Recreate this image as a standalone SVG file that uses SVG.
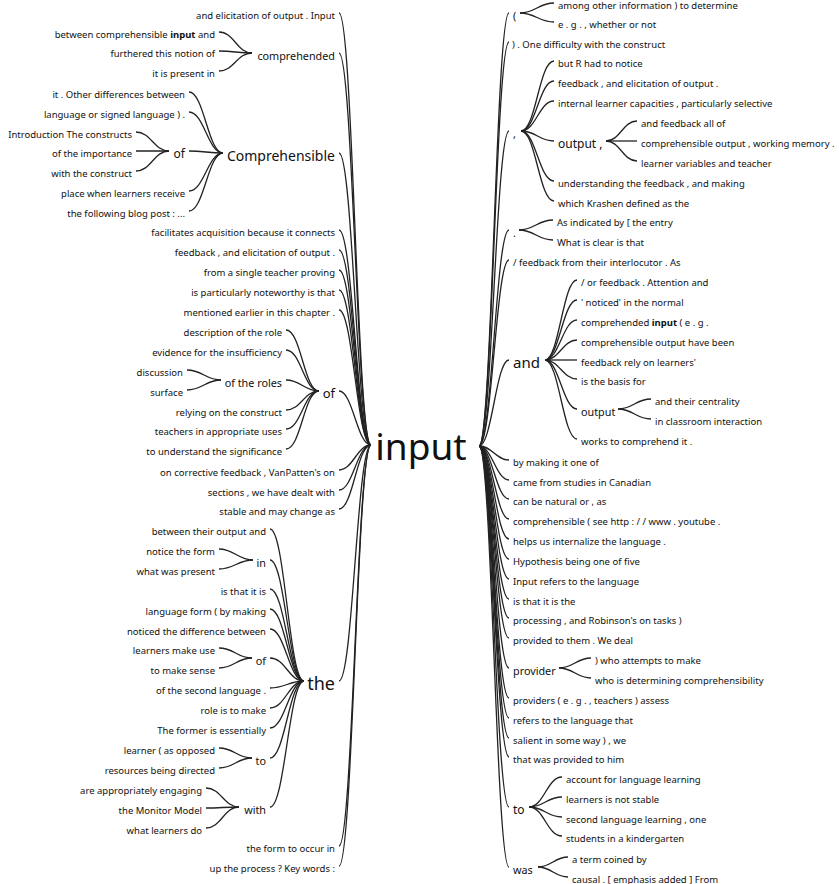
<svg xmlns="http://www.w3.org/2000/svg" width="839" height="884" viewBox="0 0 839 884">
<style>
text{font-family:"Noto Sans","Open Sans",sans-serif;fill:#111;dominant-baseline:central}
.l{text-anchor:end}
.r{text-anchor:start}
.t{font-size:9.5px}
.m{font-size:10.8px}
.n{font-size:12px}
.k{font-size:13px}
.c{font-size:14px}
.h{font-size:15px}
.x{font-size:18px}
.b{font-weight:bold}
#links path{fill:none;stroke:#222;stroke-width:1.3}
</style>
<rect width="839" height="884" fill="#fff"/>
<g id="links">
<!-- left top-level -->
<path d="M339,13 C353,13 357,445 371,445"/>
<path d="M339,53 C353,53 357,445 371,445"/>
<path d="M339,153 C353,153 357,445 371,445"/>
<path d="M339,230 C353,230 357,445 371,445"/>
<path d="M339,250 C353,250 357,445 371,445"/>
<path d="M339,270 C353,270 357,445 371,445"/>
<path d="M339,290 C353,290 357,445 371,445"/>
<path d="M339,310 C353,310 357,445 371,445"/>
<path d="M339,391 C353,391 357,445 371,445"/>
<path d="M339,470 C353,470 357,445 371,445"/>
<path d="M339,490 C353,490 357,445 371,445"/>
<path d="M339,509 C353,509 357,445 371,445"/>
<path d="M339,681 C353,681 357,445 371,445"/>
<path d="M339,846 C353,846 357,445 371,445"/>
<path d="M339,866 C353,866 357,445 371,445"/>
<!-- comprehended -->
<path d="M219,32 C234,32 237,53 252,53"/>
<path d="M219,51 C234,51 237,53 252,53"/>
<path d="M219,71 C234,71 237,53 252,53"/>
<!-- Comprehensible -->
<path d="M189,92 C204,92 208,153 223,153"/>
<path d="M189,112 C204,112 208,153 223,153"/>
<path d="M189,151 C204,151 208,153 223,153"/>
<path d="M189,191 C204,191 208,153 223,153"/>
<path d="M189,211 C204,211 208,153 223,153"/>
<!-- of (Comprehensible) -->
<path d="M136,132 C151,132 154,151 169,151"/>
<path d="M136,151 C151,151 154,151 169,151"/>
<path d="M136,171 C151,171 154,151 169,151"/>
<!-- of (input) -->
<path d="M286,330 C301,330 304,391 319,391"/>
<path d="M286,350 C301,350 304,391 319,391"/>
<path d="M286,380 C301,380 304,391 319,391"/>
<path d="M286,410 C301,410 304,391 319,391"/>
<path d="M286,429 C301,429 304,391 319,391"/>
<path d="M286,449 C301,449 304,391 319,391"/>
<!-- of the roles -->
<path d="M187,370 C202,370 206,380 221,380"/>
<path d="M187,390 C202,390 206,380 221,380"/>
<!-- the -->
<path d="M270,529 C285,529 289,681 304,681"/>
<path d="M270,560 C285,560 289,681 304,681"/>
<path d="M270,589 C285,589 289,681 304,681"/>
<path d="M270,609 C285,609 289,681 304,681"/>
<path d="M270,629 C285,629 289,681 304,681"/>
<path d="M270,658 C285,658 289,681 304,681"/>
<path d="M270,688 C285,688 289,681 304,681"/>
<path d="M270,708 C285,708 289,681 304,681"/>
<path d="M270,728 C285,728 289,681 304,681"/>
<path d="M270,758 C285,758 289,681 304,681"/>
<path d="M270,807 C285,807 289,681 304,681"/>
<!-- in -->
<path d="M219,549 C234,549 238,560 253,560"/>
<path d="M219,569 C234,569 238,560 253,560"/>
<!-- of (the) -->
<path d="M219,648 C234,648 237,658 252,658"/>
<path d="M219,668 C234,668 237,658 252,658"/>
<!-- to (the) -->
<path d="M219,748 C234,748 237,758 252,758"/>
<path d="M219,768 C234,768 237,758 252,758"/>
<!-- with -->
<path d="M206,788 C221,788 224,807 239,807"/>
<path d="M206,808 C221,808 224,807 239,807"/>
<path d="M206,828 C221,828 224,807 239,807"/>
<!-- right top-level -->
<path d="M479,446 C492,446 496,13 509,13"/>
<path d="M479,446 C492,446 496,42 509,42"/>
<path d="M479,446 C492,446 496,131 509,131"/>
<path d="M479,446 C492,446 496,230 509,230"/>
<path d="M479,446 C492,446 496,260 509,260"/>
<path d="M479,446 C492,446 496,360 509,360"/>
<path d="M479,446 C492,446 496,460 509,460"/>
<path d="M479,446 C492,446 496,480 509,480"/>
<path d="M479,446 C492,446 496,499 509,499"/>
<path d="M479,446 C492,446 496,519 509,519"/>
<path d="M479,446 C492,446 496,539 509,539"/>
<path d="M479,446 C492,446 496,559 509,559"/>
<path d="M479,446 C492,446 496,579 509,579"/>
<path d="M479,446 C492,446 496,599 509,599"/>
<path d="M479,446 C492,446 496,618 509,618"/>
<path d="M479,446 C492,446 496,638 509,638"/>
<path d="M479,446 C492,446 496,668 509,668"/>
<path d="M479,446 C492,446 496,698 509,698"/>
<path d="M479,446 C492,446 496,718 509,718"/>
<path d="M479,446 C492,446 496,738 509,738"/>
<path d="M479,446 C492,446 496,757 509,757"/>
<path d="M479,446 C492,446 496,807 509,807"/>
<path d="M479,446 C492,446 496,867 509,867"/>
<!-- ( -->
<path d="M520,13 C535,13 539,3 554,3"/>
<path d="M520,13 C535,13 539,22 554,22"/>
<!-- , -->
<path d="M521,131 C536,131 539,61 554,61"/>
<path d="M521,131 C536,131 539,81 554,81"/>
<path d="M521,131 C536,131 539,101 554,101"/>
<path d="M521,131 C536,131 539,141 554,141"/>
<path d="M521,131 C536,131 539,181 554,181"/>
<path d="M521,131 C536,131 539,201 554,201"/>
<!-- output , -->
<path d="M606,141 C620,141 623,121 637,121"/>
<path d="M606,141 C620,141 623,141 637,141"/>
<path d="M606,141 C620,141 623,161 637,161"/>
<!-- . -->
<path d="M519,230 C534,230 538,220 553,220"/>
<path d="M519,230 C534,230 538,240 553,240"/>
<!-- and -->
<path d="M545,360 C559,360 563,280 577,280"/>
<path d="M545,360 C559,360 563,300 577,300"/>
<path d="M545,360 C559,360 563,320 577,320"/>
<path d="M545,360 C559,360 563,340 577,340"/>
<path d="M545,360 C559,360 563,360 577,360"/>
<path d="M545,360 C559,360 563,379 577,379"/>
<path d="M545,360 C559,360 563,409 577,409"/>
<path d="M545,360 C559,360 563,439 577,439"/>
<!-- output (and) -->
<path d="M618,409 C633,409 636,399 651,399"/>
<path d="M618,409 C633,409 636,419 651,419"/>
<!-- provider -->
<path d="M559,668 C573,668 577,658 591,658"/>
<path d="M559,668 C573,668 577,678 591,678"/>
<!-- to (right) -->
<path d="M529,807 C544,807 547,777 562,777"/>
<path d="M529,807 C544,807 547,797 562,797"/>
<path d="M529,807 C544,807 547,817 562,817"/>
<path d="M529,807 C544,807 547,836 562,836"/>
<!-- was -->
<path d="M538,867 C551,867 555,857 568,857"/>
<path d="M538,867 C551,867 555,877 568,877"/>
</g>

<g id="n-input"><text x="421" y="445" style="font-size:37px" text-anchor="middle">input</text></g>

<!-- LEFT SIDE -->
<g id="n-L01"><text class="l t" x="335" y="15">and elicitation of output . Input</text></g>
<g id="n-comprehended"><text class="l m" x="335" y="55">comprehended</text></g>
<g id="n-comprehended-1"><text class="l t" x="215" y="34">between comprehensible <tspan class="b">input</tspan> and</text></g>
<g id="n-comprehended-2"><text class="l t" x="215" y="53">furthered this notion of</text></g>
<g id="n-comprehended-3"><text class="l t" x="215" y="73">it is present in</text></g>
<g id="n-Comprehensible"><text class="l c" x="335" y="155">Comprehensible</text></g>
<g id="n-C1"><text class="l t" x="185" y="94">it . Other differences between</text></g>
<g id="n-C2"><text class="l t" x="185" y="114">language or signed language ) .</text></g>
<g id="n-C-of"><text class="l n" x="185" y="153">of</text></g>
<g id="n-Cof1"><text class="l t" x="132" y="134">Introduction The constructs</text></g>
<g id="n-Cof2"><text class="l t" x="132" y="153">of the importance</text></g>
<g id="n-Cof3"><text class="l t" x="132" y="173">with the construct</text></g>
<g id="n-C4"><text class="l t" x="185" y="193">place when learners receive</text></g>
<g id="n-C5"><text class="l t" x="185" y="213">the following blog post : ...</text></g>
<g id="n-L04"><text class="l t" x="335" y="232">facilitates acquisition because it connects</text></g>
<g id="n-L05"><text class="l t" x="335" y="252">feedback , and elicitation of output .</text></g>
<g id="n-L06"><text class="l t" x="335" y="272">from a single teacher proving</text></g>
<g id="n-L07"><text class="l t" x="335" y="292">is particularly noteworthy is that</text></g>
<g id="n-L08"><text class="l t" x="335" y="312">mentioned earlier in this chapter .</text></g>
<g id="n-of"><text class="l k" x="335" y="393">of</text></g>
<g id="n-of1"><text class="l t" x="282" y="332">description of the role</text></g>
<g id="n-of2"><text class="l t" x="282" y="352">evidence for the insufficiency</text></g>
<g id="n-of-roles"><text class="l m" x="282" y="382">of the roles</text></g>
<g id="n-roles1"><text class="l t" x="183" y="372">discussion</text></g>
<g id="n-roles2"><text class="l t" x="183" y="392">surface</text></g>
<g id="n-of4"><text class="l t" x="282" y="412">relying on the construct</text></g>
<g id="n-of5"><text class="l t" x="282" y="431">teachers in appropriate uses</text></g>
<g id="n-of6"><text class="l t" x="282" y="451">to understand the significance</text></g>
<g id="n-L10"><text class="l t" x="335" y="472">on corrective feedback , VanPatten's on</text></g>
<g id="n-L11"><text class="l t" x="335" y="492">sections , we have dealt with</text></g>
<g id="n-L12"><text class="l t" x="335" y="511">stable and may change as</text></g>
<g id="n-the"><text class="l x" x="335" y="683">the</text></g>
<g id="n-the1"><text class="l t" x="266" y="531">between their output and</text></g>
<g id="n-the-in"><text class="l m" x="266" y="562">in</text></g>
<g id="n-in1"><text class="l t" x="215" y="551">notice the form</text></g>
<g id="n-in2"><text class="l t" x="215" y="571">what was present</text></g>
<g id="n-the3"><text class="l t" x="266" y="591">is that it is</text></g>
<g id="n-the4"><text class="l t" x="266" y="611">language form ( by making</text></g>
<g id="n-the5"><text class="l t" x="266" y="631">noticed the difference between</text></g>
<g id="n-the-of"><text class="l m" x="266" y="660">of</text></g>
<g id="n-theof1"><text class="l t" x="215" y="650">learners make use</text></g>
<g id="n-theof2"><text class="l t" x="215" y="670">to make sense</text></g>
<g id="n-the7"><text class="l t" x="266" y="690">of the second language .</text></g>
<g id="n-the8"><text class="l t" x="266" y="710">role is to make</text></g>
<g id="n-the9"><text class="l t" x="266" y="730">The former is essentially</text></g>
<g id="n-the-to"><text class="l m" x="266" y="760">to</text></g>
<g id="n-theto1"><text class="l t" x="215" y="750">learner ( as opposed</text></g>
<g id="n-theto2"><text class="l t" x="215" y="770">resources being directed</text></g>
<g id="n-the-with"><text class="l m" x="266" y="809">with</text></g>
<g id="n-with1"><text class="l t" x="202" y="790">are appropriately engaging</text></g>
<g id="n-with2"><text class="l t" x="202" y="810">the Monitor Model</text></g>
<g id="n-with3"><text class="l t" x="202" y="830">what learners do</text></g>
<g id="n-L14"><text class="l t" x="335" y="848">the form to occur in</text></g>
<g id="n-L15"><text class="l t" x="335" y="868">up the process ? Key words :</text></g>

<!-- RIGHT SIDE -->
<g id="n-paren"><text class="r m" x="513" y="15">(</text></g>
<g id="n-paren1"><text class="r t" x="558" y="5">among other information ) to determine</text></g>
<g id="n-paren2"><text class="r t" x="558" y="24">e . g . , whether or not</text></g>
<g id="n-R02"><text class="r t" x="512" y="44">) . One difficulty with the construct</text></g>
<g id="n-comma"><text class="r m" x="513" y="133">,</text></g>
<g id="n-comma1"><text class="r t" x="558" y="63">but R had to notice</text></g>
<g id="n-comma2"><text class="r t" x="558" y="83">feedback , and elicitation of output .</text></g>
<g id="n-comma3"><text class="r t" x="558" y="103">internal learner capacities , particularly selective</text></g>
<g id="n-output-comma"><text class="r n" x="558" y="143">output ,</text></g>
<g id="n-oc1"><text class="r t" x="641" y="123">and feedback all of</text></g>
<g id="n-oc2"><text class="r t" x="641" y="143">comprehensible output , working memory .</text></g>
<g id="n-oc3"><text class="r t" x="641" y="163">learner variables and teacher</text></g>
<g id="n-comma5"><text class="r t" x="558" y="183">understanding the feedback , and making</text></g>
<g id="n-comma6"><text class="r t" x="558" y="203">which Krashen defined as the</text></g>
<g id="n-dot"><text class="r m" x="513" y="232">.</text></g>
<g id="n-dot1"><text class="r t" x="557" y="222">As indicated by [ the entry</text></g>
<g id="n-dot2"><text class="r t" x="557" y="242">What is clear is that</text></g>
<g id="n-R05"><text class="r t" x="513" y="262">/ feedback from their interlocutor . As</text></g>
<g id="n-and"><text class="r h" x="513" y="362">and</text></g>
<g id="n-and1"><text class="r t" x="581" y="282">/ or feedback . Attention and</text></g>
<g id="n-and2"><text class="r t" x="581" y="302">' noticed' in the normal</text></g>
<g id="n-and3"><text class="r t" x="581" y="322">comprehended <tspan class="b">input</tspan> ( e . g .</text></g>
<g id="n-and4"><text class="r t" x="581" y="342">comprehensible output have been</text></g>
<g id="n-and5"><text class="r t" x="581" y="362">feedback rely on learners'</text></g>
<g id="n-and6"><text class="r t" x="581" y="381">is the basis for</text></g>
<g id="n-and-output"><text class="r m" x="581" y="411">output</text></g>
<g id="n-ao1"><text class="r t" x="655" y="401">and their centrality</text></g>
<g id="n-ao2"><text class="r t" x="655" y="421">in classroom interaction</text></g>
<g id="n-and8"><text class="r t" x="581" y="441">works to comprehend it .</text></g>
<g id="n-R07"><text class="r t" x="513" y="462">by making it one of</text></g>
<g id="n-R08"><text class="r t" x="513" y="482">came from studies in Canadian</text></g>
<g id="n-R09"><text class="r t" x="513" y="501">can be natural or , as</text></g>
<g id="n-R10"><text class="r t" x="513" y="521">comprehensible ( see http : / / www . youtube .</text></g>
<g id="n-R11"><text class="r t" x="513" y="541">helps us internalize the language .</text></g>
<g id="n-R12"><text class="r t" x="513" y="561">Hypothesis being one of five</text></g>
<g id="n-R13"><text class="r t" x="513" y="581">Input refers to the language</text></g>
<g id="n-R14"><text class="r t" x="513" y="601">is that it is the</text></g>
<g id="n-R15"><text class="r t" x="513" y="620">processing , and Robinson's on tasks )</text></g>
<g id="n-R16"><text class="r t" x="513" y="640">provided to them . We deal</text></g>
<g id="n-provider"><text class="r m" x="513" y="670">provider</text></g>
<g id="n-prov1"><text class="r t" x="595" y="660">) who attempts to make</text></g>
<g id="n-prov2"><text class="r t" x="595" y="680">who is determining comprehensibility</text></g>
<g id="n-R18"><text class="r t" x="513" y="700">providers ( e . g . , teachers ) assess</text></g>
<g id="n-R19"><text class="r t" x="513" y="720">refers to the language that</text></g>
<g id="n-R20"><text class="r t" x="513" y="740">salient in some way ) , we</text></g>
<g id="n-R21"><text class="r t" x="513" y="759">that was provided to him</text></g>
<g id="n-to"><text class="r n" x="513" y="809">to</text></g>
<g id="n-to1"><text class="r t" x="566" y="779">account for language learning</text></g>
<g id="n-to2"><text class="r t" x="566" y="799">learners is not stable</text></g>
<g id="n-to3"><text class="r t" x="566" y="819">second language learning , one</text></g>
<g id="n-to4"><text class="r t" x="566" y="838">students in a kindergarten</text></g>
<g id="n-was"><text class="r m" x="513" y="869">was</text></g>
<g id="n-was1"><text class="r t" x="572" y="859">a term coined by</text></g>
<g id="n-was2"><text class="r t" x="572" y="879">causal . [ emphasis added ] From</text></g>
</svg>
